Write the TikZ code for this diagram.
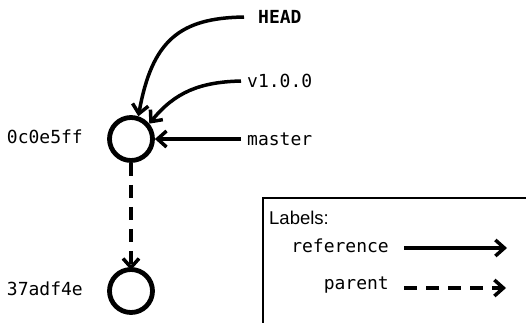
\documentclass[tikz,border=0pt]{standalone}
\usepackage{fontspec}
\setmainfont{Liberation Sans}
\setmonofont{DejaVu Sans Mono}
\usetikzlibrary{arrows.meta}
\begin{document}
\begin{tikzpicture}[x=1pt,y=-1pt,
  commit/.style={circle,draw,line width=4.8pt,minimum size=43pt,inner sep=0pt},
  lbl/.style={font=\fontsize{18}{20}\selectfont\ttfamily,inner sep=0pt},
  refarrow/.style={line width=3.5pt,-{Straight Barb[length=9pt,width=16pt,line width=3.5pt]}},
  pararrow/.style={refarrow,dash pattern=on 13pt off 9pt}
]
\clip (0,0) rectangle (526,322);
% commits
\node[commit] (c1) at (131,139) {};
\node[commit] (c2) at (131,291) {};
\node[lbl,anchor=east] (h1) at (83,137) {0c0e5ff};
\node[lbl,anchor=east] (h2) at (83,289) {37adf4e};
% references
\node[lbl,anchor=west,font=\fontsize{18}{20}\selectfont\ttfamily\bfseries] (head) at (258,17) {HEAD};
\node[lbl,anchor=west] (v1) at (247,81) {v1.0.0};
\node[lbl,anchor=west] (mst) at (247,139) {master};
\draw[refarrow] ([xshift=-14pt]head.west) .. controls (180,18) and (152,40) .. (c1.72);
\draw[refarrow] ([xshift=-6pt]v1.west) .. controls (200,82) and (175,92) .. (c1.40);
\draw[refarrow] ([xshift=-6pt]mst.west) -- (c1.east);
\draw[pararrow] (c1.south) -- ([yshift=-3pt]c2.north);
% legend
\draw[line width=1.3pt] (263,198) rectangle (560,360);
\node[anchor=west,inner sep=0pt,font=\fontsize{18.5}{20}\selectfont] (lg) at (269,218) {Labels:};
\node[lbl,anchor=east] (lr) at (389,246) {reference};
\node[lbl,anchor=east] (lp) at (389,285) {parent};
\coordinate (r1) at (404,248);
\coordinate (r2) at (507,248);
\coordinate (p1) at (404,288);
\coordinate (p2) at (506,288);
\draw[refarrow] (r1) -- (r2);
\draw[pararrow] (p1) -- (p2);
\end{tikzpicture}
\end{document}
